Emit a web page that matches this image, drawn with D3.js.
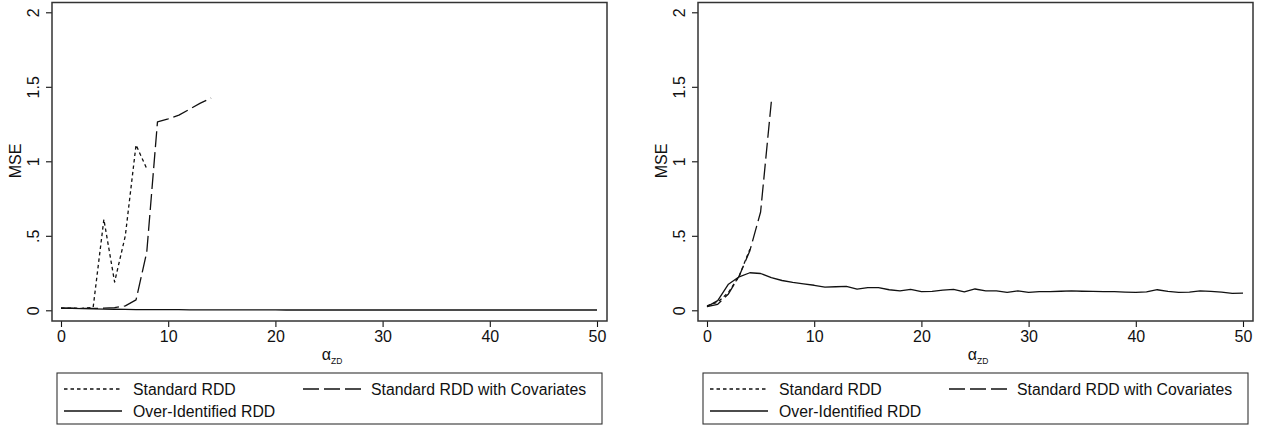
<!DOCTYPE html>
<html>
<head>
<meta charset="utf-8">
<script src="https://cdn.jsdelivr.net/npm/d3@7"></script>
<style>
  html, body { margin: 0; padding: 0; background: #fff; }
  svg { display: block; font-family: "Liberation Sans", Arial, Helvetica, sans-serif; }
</style>
</head>
<body>
<svg id="chart" width="1262" height="427"></svg>
<script>
// ---------- data ----------
const xTicks = [0, 10, 20, 30, 40, 50];
const yTicks = [0, 0.5, 1, 1.5, 2];
const yTickLabels = ["0", ".5", "1", "1.5", "2"];
const seriesNames = ["Standard RDD", "Standard RDD with Covariates", "Over-Identified RDD"];

// Left panel
const leftStdX = [0, 1, 2, 3, 4, 5, 6, 7, 8];
const leftStdY = [0.015, 0.014, 0.013, 0.02, 0.61, 0.19, 0.5, 1.11, 0.95];
const leftCovX = [0, 1, 2, 3, 4, 5, 6, 7, 8, 9, 10, 11, 12, 13, 14];
const leftCovY = [0.015, 0.014, 0.013, 0.013, 0.014, 0.018, 0.03, 0.07, 0.39, 1.265, 1.285, 1.31, 1.35, 1.39, 1.425];
const overX = [0,1,2,3,4,5,6,7,8,9,10,11,12,13,14,15,16,17,18,19,20,21,22,23,24,25,26,27,28,29,30,31,32,33,34,35,36,37,38,39,40,41,42,43,44,45,46,47,48,49,50];
const leftOverY = [0.015,0.013,0.011,0.009,0.008,0.007,0.006,0.005,0.005,0.004,0.004,0.004,0.003,0.003,0.003,0.003,0.003,0.003,0.003,0.003,0.003,0.002,0.002,0.002,0.002,0.002,0.002,0.002,0.002,0.002,0.002,0.002,0.002,0.002,0.002,0.002,0.002,0.002,0.002,0.002,0.002,0.002,0.002,0.002,0.002,0.002,0.002,0.002,0.002,0.002,0.002];

// Right panel
const rightStdX = [0, 1, 2, 3, 4];
const rightStdY = [0.03, 0.055, 0.12, 0.23, 0.41];
const rightCovX = [0, 1, 2, 3, 4, 5, 6];
const rightCovY = [0.025, 0.04, 0.11, 0.23, 0.40, 0.66, 1.40];
const rightOverY = [0.025,0.065,0.175,0.225,0.252,0.247,0.22,0.2,0.188,0.178,0.168,0.155,0.158,0.16,0.142,0.152,0.152,0.138,0.13,0.14,0.126,0.127,0.135,0.14,0.123,0.143,0.13,0.13,0.121,0.13,0.12,0.125,0.125,0.128,0.13,0.128,0.127,0.125,0.125,0.122,0.12,0.123,0.138,0.127,0.12,0.122,0.13,0.127,0.122,0.114,0.115];

// ---------- drawing ----------
const svg = d3.select("#chart");
const ink = "#111";
const dashStyles = ["3.5,3", "16,5", null];

function panel(offsetX, stdX, stdY, covX, covY, overY) {
  const g = svg.append("g").attr("transform", `translate(${offsetX},0)`);
  const frame = { left: 52, right: 607, top: 2.5, bottom: 321 };
  const x = d3.scaleLinear().domain([0, 50]).range([61, 597]);
  const y = d3.scaleLinear().domain([0, 2]).range([310.3, 12.3]);

  // x axis
  const xAxis = d3.axisBottom(x).tickValues(xTicks).tickSize(6).tickSizeOuter(0).tickPadding(4);
  const gx = g.append("g").attr("transform", `translate(0,${frame.bottom})`).call(xAxis);
  gx.select(".domain").remove();
  gx.selectAll(".tick line").attr("stroke", ink).attr("stroke-width", 1.1);
  gx.selectAll(".tick text").attr("fill", ink).attr("font-size", 16).attr("dy", "0.71em")
    .attr("y", 10);

  // y axis
  const yAxis = d3.axisLeft(y).tickValues(yTicks).tickSize(6).tickSizeOuter(0)
    .tickFormat((d, i) => yTickLabels[i]);
  const gy = g.append("g").attr("transform", `translate(${frame.left},0)`).call(yAxis);
  gy.select(".domain").remove();
  gy.selectAll(".tick line").attr("stroke", ink).attr("stroke-width", 1.1);
  gy.selectAll(".tick text").attr("fill", ink).attr("font-size", 16)
    .attr("x", null).attr("dy", null).attr("text-anchor", "middle")
    .attr("transform", "translate(-13.5,0) rotate(-90)");

  // frame
  g.append("rect").attr("x", frame.left).attr("y", frame.top)
    .attr("width", frame.right - frame.left).attr("height", frame.bottom - frame.top)
    .attr("fill", "none").attr("stroke", "#333").attr("stroke-width", 1.5);

  // axis titles
  g.append("text").attr("transform", "translate(21,161) rotate(-90)")
    .attr("text-anchor", "middle").attr("font-size", 16).attr("fill", ink).text("MSE");
  const xt = g.append("text").attr("x", 332).attr("y", 360).attr("text-anchor", "middle")
    .attr("font-size", 16).attr("fill", ink);
  xt.append("tspan").text("α");
  xt.append("tspan").attr("font-size", 8.5).attr("dy", 4).text("ZD");

  // lines
  const line = d3.line().x(d => x(d[0])).y(d => y(d[1]));
  const sets = [
    d3.zip(stdX, stdY),
    d3.zip(covX, covY),
    d3.zip(overX, overY)
  ];
  sets.forEach((pts, i) => {
    g.append("path").datum(pts).attr("d", line)
      .attr("fill", "none").attr("stroke", ink).attr("stroke-width", 1.3)
      .attr("stroke-linejoin", "round")
      .attr("stroke-dasharray", dashStyles[i]);
  });

  // legend
  const lg = g.append("g");
  lg.append("rect").attr("x", 57).attr("y", 373).attr("width", 545).attr("height", 51)
    .attr("fill", "none").attr("stroke", "#333").attr("stroke-width", 1.1);
  const items = [
    { x0: 64, x1: 122, tx: 133, y: 389, i: 0 },
    { x0: 303, x1: 361, tx: 371, y: 389, i: 1 },
    { x0: 64, x1: 122, tx: 133, y: 411, i: 2 }
  ];
  items.forEach(it => {
    lg.append("line").attr("x1", it.x0).attr("x2", it.x1).attr("y1", it.y).attr("y2", it.y)
      .attr("stroke", ink).attr("stroke-width", 1.3).attr("stroke-dasharray", dashStyles[it.i]);
    lg.append("text").attr("x", it.tx).attr("y", it.y + 5.5).attr("font-size", 15.8)
      .attr("fill", ink).text(seriesNames[it.i]);
  });
}

panel(0, leftStdX, leftStdY, leftCovX, leftCovY, leftOverY);
panel(646, rightStdX, rightStdY, rightCovX, rightCovY, rightOverY);
</script>
</body>
</html>
